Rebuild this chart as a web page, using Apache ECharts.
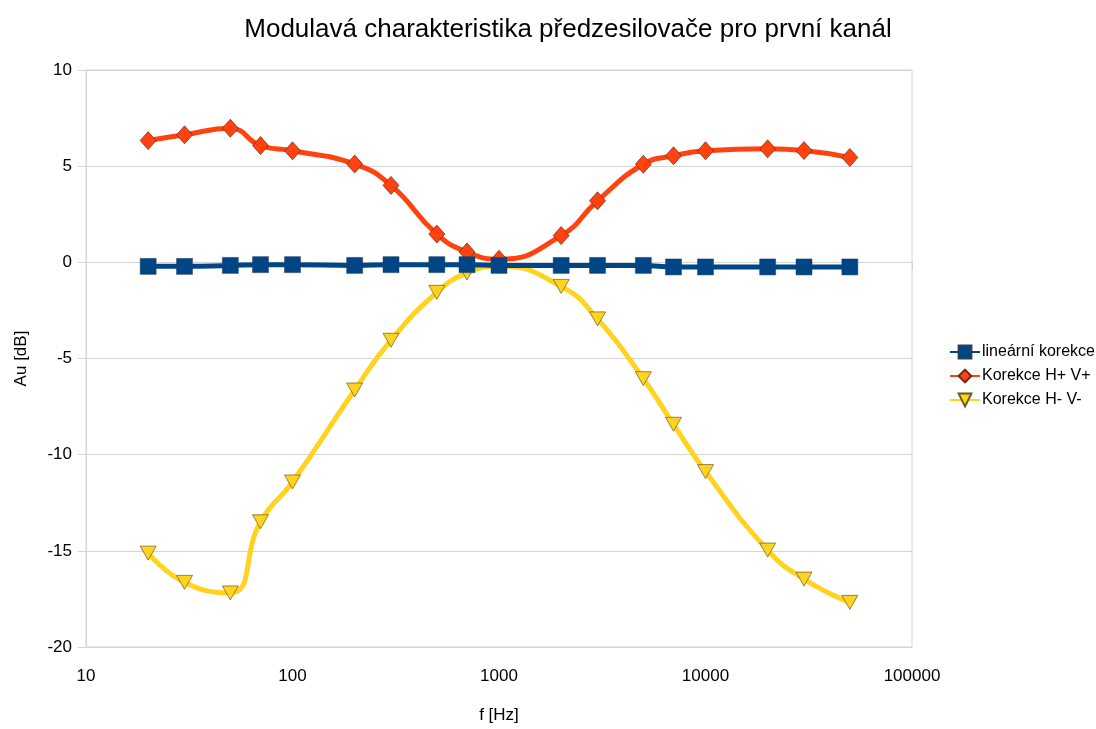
<!DOCTYPE html>
<html>
<head>
<meta charset="utf-8">
<script src="https://cdn.jsdelivr.net/npm/echarts@6/dist/echarts.min.js"></script>
<style>html,body{margin:0;padding:0;background:#fff;}#c{width:1096px;height:729px;}</style>
</head>
<body>
<div id="c"></div>
<script>
const freqs = [20, 30, 50, 70, 100, 200, 300, 500, 700, 1000, 2000, 3000, 5000, 7000, 10000, 20000, 30000, 50000];
const linearni = [-0.21, -0.21, -0.16, -0.12, -0.12, -0.16, -0.12, -0.12, -0.12, -0.16, -0.16, -0.16, -0.16, -0.24, -0.24, -0.24, -0.24, -0.24];
const korekceHpVp = [6.33, 6.63, 6.97, 6.07, 5.80, 5.11, 4.0, 1.47, 0.54, 0.16, 1.39, 3.2, 5.1, 5.54, 5.8, 5.9, 5.81, 5.45];
const korekceHmVm = [-15.12, -16.64, -17.19, -13.49, -11.42, -6.64, -4.05, -1.56, -0.55, -0.2, -1.25, -2.94, -6.05, -8.42, -10.88, -14.96, -16.47, -17.68];
const seriesNames = ['lineární korekce', 'Korekce H+ V+', 'Korekce H- V-'];

const pair = arr => freqs.map((f, i) => [f, arr[i]]);
const font = 'Liberation Sans, Arial, sans-serif';
const chart = echarts.init(document.getElementById('c'));
chart.setOption({
  animation: false,
  backgroundColor: '#fff',
  title: {
    text: 'Modulavá charakteristika předzesilovače pro první kanál',
    left: 563, textAlign: 'center', top: 12,
    textStyle: {fontFamily: font, fontSize: 26, fontWeight: 'normal', color: '#000'}
  },
  legend: {
    orient: 'vertical', left: 944, top: 339, itemGap: 8,
    itemWidth: 30, itemHeight: 16,
    textStyle: {fontFamily: font, fontSize: 16, color: '#000', padding: [0, 0, 0, -3]},
    data: seriesNames
  },
  grid: {left: 86, right: 184, top: 70, bottom: 78, show: true, borderColor: '#d4d4d4', borderWidth: 1},
  xAxis: {
    type: 'log', logBase: 10, min: 10, max: 100000,
    name: 'f [Hz]', nameLocation: 'middle', nameGap: 60,
    nameTextStyle: {fontFamily: font, fontSize: 17, color: '#000'},
    axisLine: {lineStyle: {color: '#d4d4d4'}},
    axisTick: {show: true, length: 8, lineStyle: {color: '#d4d4d4'}},
    minorTick: {show: false},
    splitLine: {show: false},
    axisLabel: {fontFamily: font, fontSize: 17, color: '#000', margin: 21, formatter: v => String(Math.round(v))}
  },
  yAxis: {
    type: 'value', min: -20, max: 10, interval: 5,
    name: 'Au [dB]', nameLocation: 'middle', nameGap: 56,
    nameTextStyle: {fontFamily: font, fontSize: 17, color: '#000'},
    axisLine: {show: true, lineStyle: {color: '#d4d4d4'}},
    axisTick: {show: true, length: 8, lineStyle: {color: '#d4d4d4'}},
    splitLine: {lineStyle: {color: '#d4d4d4'}},
    axisLabel: {fontFamily: font, fontSize: 17, color: '#000', margin: 14}
  },
  series: [
    {
      name: seriesNames[0], type: 'line', data: pair(linearni), smooth: 0.5,
      symbol: 'rect', symbolSize: 16,
      lineStyle: {color: '#004586', width: 5},
      itemStyle: {color: '#004586', borderColor: '#2a3f5a', borderWidth: 0.5},
      z: 4
    },
    {
      name: seriesNames[1], type: 'line', data: pair(korekceHpVp), smooth: 0.5,
      symbol: 'diamond', symbolSize: [16, 18],
      lineStyle: {color: '#ff420e', width: 5},
      itemStyle: {color: '#ff420e', borderColor: '#6b2a1a', borderWidth: 0.7},
      z: 3
    },
    {
      name: seriesNames[2], type: 'line', data: pair(korekceHmVm), smooth: 0.5,
      symbol: 'triangle', symbolRotate: 180, symbolSize: [16, 14],
      lineStyle: {color: '#ffd320', width: 5},
      itemStyle: {color: '#ffd320', borderColor: '#6b5a1a', borderWidth: 0.7},
      z: 2
    }
  ]
});
</script>
</body>
</html>
